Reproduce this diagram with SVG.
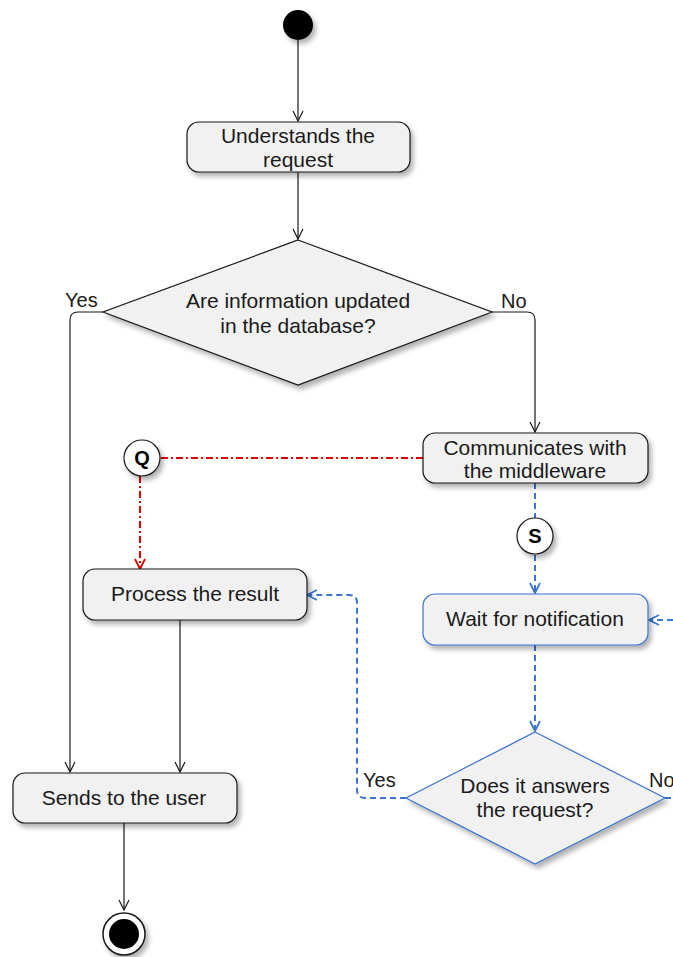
<svg xmlns="http://www.w3.org/2000/svg" width="673" height="957" viewBox="0 0 673 957">
  <defs>
    <filter id="shadow" x="-20%" y="-20%" width="150%" height="150%">
      <feDropShadow dx="3" dy="4" stdDeviation="2.5" flood-color="#000" flood-opacity="0.3"/>
    </filter>
    <marker id="arrow-black" viewBox="0 0 12 12" markerWidth="12" markerHeight="12" refX="11" refY="6" orient="auto" markerUnits="userSpaceOnUse">
      <path d="M1,1 L11,6 L1,11" fill="none" stroke="#181818" stroke-width="1.2"/>
    </marker>
    <marker id="arrow-red" viewBox="0 0 12 12" markerWidth="12" markerHeight="12" refX="11" refY="6" orient="auto" markerUnits="userSpaceOnUse">
      <path d="M1,1 L11,6 L1,11" fill="none" stroke="#E00000" stroke-width="1.8"/>
    </marker>
    <marker id="arrow-blue" viewBox="0 0 12 12" markerWidth="12" markerHeight="12" refX="11" refY="6" orient="auto" markerUnits="userSpaceOnUse">
      <path d="M1,1 L11,6 L1,11" fill="none" stroke="#3A75CF" stroke-width="1.8"/>
    </marker>
  </defs>
  <style>
    .node { fill: #F1F1F1; stroke: #181818; stroke-width: 1.2; filter: url(#shadow); }
    .node.blue { stroke: #3A75CF; }
    .label { font-family: "Liberation Sans", Arial, sans-serif; font-size: 21px; fill: #1a1a1a; text-anchor: middle; }
    .edge-label { font-family: "Liberation Sans", Arial, sans-serif; font-size: 20px; fill: #1a1a1a; }
    .conn { fill: #FFFFFF; stroke: #181818; stroke-width: 1.2; filter: url(#shadow); }
    .conn-text { font-family: "Liberation Sans", Arial, sans-serif; font-size: 20px; font-weight: bold; fill: #000; text-anchor: middle; }
    .flow { fill: none; stroke: #181818; stroke-width: 1.2; marker-end: url(#arrow-black); }
    .flow-red { fill: none; stroke: #E00000; stroke-width: 2; stroke-dasharray: 7 3 2 3; }
    .flow-blue { fill: none; stroke: #3A75CF; stroke-width: 2; stroke-dasharray: 6 4; }
  </style>

  <!-- connectors -->
  <g id="connectors">
    <path class="flow" d="M298,40 L298,121"/>
    <path class="flow" d="M298,172 L298,239"/>
    <!-- Yes branch -->
    <path class="flow" d="M103,312 L78,312 Q70,312 70,320 L70,772"/>
    <!-- No branch -->
    <path class="flow" d="M492,312 L527,312 Q535,312 535,320 L535,432"/>
    <!-- Process to Sends -->
    <path class="flow" d="M180,620 L180,772"/>
    <!-- Sends to end -->
    <path class="flow" d="M124,823 L124,910"/>
    <!-- red Q link -->
    <path class="flow-red" d="M423,458 L160,458"/>
    <path class="flow-red" d="M140,476 L140,569" marker-end="url(#arrow-red)"/>
    <!-- blue S link -->
    <path class="flow-blue" d="M535,483 L535,518"/>
    <path class="flow-blue" d="M535,555 L535,593" marker-end="url(#arrow-blue)"/>
    <path class="flow-blue" d="M535,645 L535,731" marker-end="url(#arrow-blue)"/>
    <!-- Yes loop back to Process -->
    <path class="flow-blue" d="M406,798 L365,798 Q357,798 357,790 L357,603 Q357,595 349,595 L307,595" marker-end="url(#arrow-blue)"/>
    <!-- No loop back to Wait -->
    <path class="flow-blue" d="M665,798 L673,798"/>
    <path class="flow-blue" d="M673,620 L649,620" marker-end="url(#arrow-blue)"/>
  </g>

  <g id="start">
    <circle cx="298" cy="25" r="15" fill="#000" filter="url(#shadow)"/>
  </g>

  <g id="understands">
    <rect class="node" x="187" y="122" width="223" height="50" rx="12" ry="12"/>
    <text class="label" x="298" y="143">Understands the</text>
    <text class="label" x="298" y="167">request</text>
  </g>

  <g id="decision-db">
    <polygon class="node" points="298,240 492,312 298,385 103,312"/>
    <text class="label" x="298" y="308">Are information updated</text>
    <text class="label" x="298" y="333">in the database?</text>
    <text class="edge-label" x="65" y="307">Yes</text>
    <text class="edge-label" x="501" y="308">No</text>
  </g>

  <g id="communicates">
    <rect class="node" x="423" y="433" width="225" height="50" rx="12" ry="12"/>
    <text class="label" x="535" y="455">Communicates with</text>
    <text class="label" x="535" y="478">the middleware</text>
  </g>

  <g id="connector-q">
    <circle class="conn" cx="142" cy="458" r="18"/>
    <text class="conn-text" x="142" y="465">Q</text>
  </g>

  <g id="connector-s">
    <circle class="conn" cx="535" cy="536" r="18"/>
    <text class="conn-text" x="535" y="543">S</text>
  </g>

  <g id="process">
    <rect class="node" x="83" y="569" width="224" height="51" rx="12" ry="12"/>
    <text class="label" x="195" y="601">Process the result</text>
  </g>

  <g id="wait">
    <rect class="node blue" x="423" y="594" width="225" height="51" rx="12" ry="12"/>
    <text class="label" x="535" y="626">Wait for notification</text>
  </g>

  <g id="decision-answer">
    <polygon class="node blue" points="535,732 665,798 535,864 406,798"/>
    <text class="label" x="535" y="793">Does it answers</text>
    <text class="label" x="535" y="817">the request?</text>
    <text class="edge-label" x="363" y="787">Yes</text>
    <text class="edge-label" x="649" y="787">No</text>
  </g>

  <g id="sends">
    <rect class="node" x="13" y="773" width="224" height="50" rx="12" ry="12"/>
    <text class="label" x="124" y="805">Sends to the user</text>
  </g>

  <g id="end">
    <circle cx="124" cy="934" r="21" fill="#FFFFFF" stroke="#181818" stroke-width="1.5" filter="url(#shadow)"/>
    <circle cx="124" cy="934" r="15" fill="#000"/>
  </g>
</svg>
